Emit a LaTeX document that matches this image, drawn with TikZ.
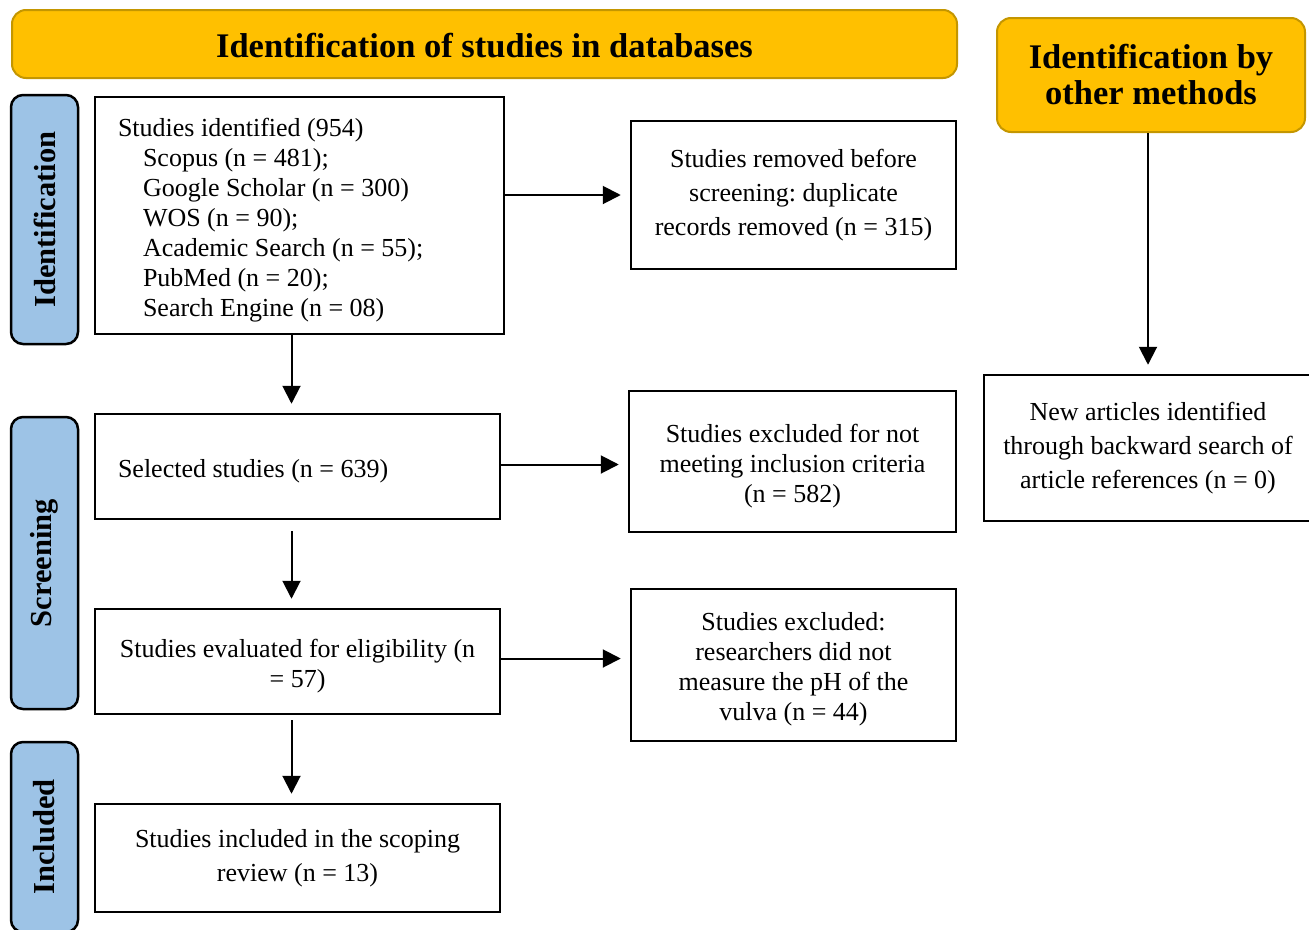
\documentclass[tikz,border=0pt]{standalone}
\usepackage{fontspec}
\setmainfont{Liberation Serif}
\usetikzlibrary{arrows.meta}
\definecolor{bannergold}{RGB}{255,192,0}
\definecolor{bannerline}{RGB}{196,150,0}
\definecolor{phaseblue}{RGB}{157,195,230}
\frenchspacing

\begin{document}
\begin{tikzpicture}[x=1pt,y=1pt,
  banner/.style={draw=bannerline,fill=bannergold,rounded corners=14pt,line width=2pt,
    align=center,font=\bfseries\fontsize{34.5}{36}\selectfont},
  phase/.style={draw,fill=phaseblue,rounded corners=12pt,line width=2.5pt,rotate=90,
    minimum height=67pt,font=\bfseries\fontsize{30.5}{34}\selectfont},
  stepbox/.style={draw,line width=2.5pt,inner sep=0pt,align=center,
    font=\fontsize{26}{30}\selectfont},
  wide/.style={font=\fontsize{26}{34}\selectfont},
  % pushes the lines a little below the middle of the box
  low/.style={execute at begin node={\rule{0pt}{27pt}}},
  flow/.style={-{Triangle[length=18pt,width=18pt]},line width=2pt,shorten >=9pt}]

\useasboundingbox (0,0) rectangle (1309,-929);
\clip (0,0) rectangle (1309,-929);

% headers
\node[banner,low,minimum width=945pt,minimum height=68pt] (dbs) at (484.5,-44)
  {Identification of studies in databases};
\node[banner,minimum width=308pt,minimum height=114pt] (oth) at (1151,-75)
  {Identification by\\other methods};

% phases down the left side
\node[phase,minimum width=249pt] (pid) at (44.5,-219.5) {Identification};
\node[phase,minimum width=292pt] (pscr) at (44.5,-563) {Screening};
\node[phase,minimum width=190pt] (pinc) at (44.5,-837) {Included};

% main column
\node[stepbox,low,align=flush left,text width=363pt,minimum width=409pt,minimum height=237pt]
  (ident) at (299.5,-215.5)
  {Studies identified (954)\\
   \hspace*{25pt}Scopus (n = 481);\\
   \hspace*{25pt}Google Scholar (n = 300)\\
   \hspace*{25pt}WOS (n = 90);\\
   \hspace*{25pt}Academic Search (n = 55);\\
   \hspace*{25pt}PubMed (n = 20);\\
   \hspace*{25pt}Search Engine (n = 08)};
\node[stepbox,low,align=flush left,text width=359pt,minimum width=405pt,minimum height=105pt]
  (sel) at (297.5,-466.5) {Selected studies (n = 639)};
\node[stepbox,low,align=flush center,text width=385pt,minimum width=405pt,minimum height=105pt]
  (elig) at (297.5,-661.5) {Studies evaluated for eligibility (n\\= 57)};
\node[stepbox,wide,minimum width=405pt,minimum height=108pt] (incl) at (297.5,-858)
  {Studies included in the scoping\\review (n = 13)};

% exclusions
\node[stepbox,wide,minimum width=325pt,minimum height=148pt] (dupl) at (793.5,-195)
  {Studies removed before\\screening: duplicate\\records removed (n = 315)};
\node[stepbox,low,align=flush center,text width=305pt,minimum width=327pt,minimum height=141pt]
  (crit) at (792.5,-461.5)
  {Studies excluded for not\\meeting inclusion criteria\\(n = 582)};
\node[stepbox,low,align=flush center,text width=305pt,minimum width=325pt,minimum height=152pt]
  (noph) at (793.5,-665)
  {Studies excluded:\\researchers did not\\measure the pH of the\\vulva (n = 44)};

% other methods
\node[stepbox,wide,minimum width=328pt,minimum height=146pt] (back) at (1148,-448)
  {New articles identified\\through backward search of\\article references (n = 0)};

% connectors
\draw[flow] ([xshift=-8pt]ident.south) -- ([xshift=-8pt]ident.south |- sel.north);
\draw[flow,shorten <=11pt] ([xshift=-6pt]sel.south) -- ([xshift=-6pt]sel.south |- elig.north);
\draw[flow,shorten <=5pt] ([xshift=-6pt]elig.south) -- ([xshift=-6pt]elig.south |- incl.north);
\draw[flow] (ident.east |- dupl.west) -- (dupl.west);
\draw[flow] ([yshift=2pt]sel.east) -- ([yshift=2pt]sel.east -| crit.west);
\draw[flow] ([yshift=3pt]elig.east) -- ([yshift=3pt]elig.east -| noph.west);
\draw[flow] ([xshift=-3pt]oth.south) -- ([xshift=-3pt]oth.south |- back.north);

\end{tikzpicture}
\end{document}
